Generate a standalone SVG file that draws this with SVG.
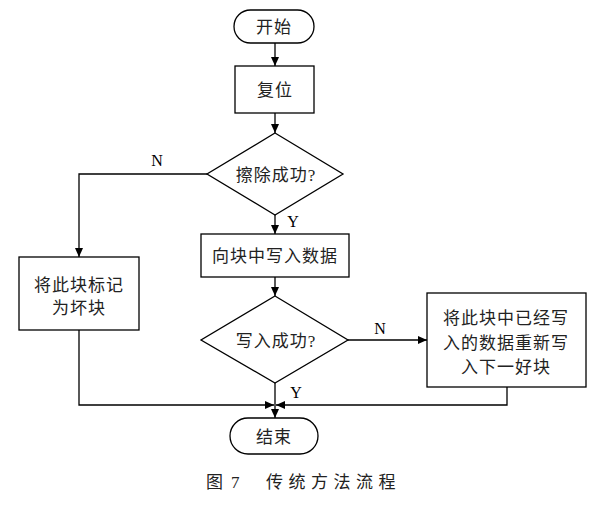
<svg xmlns="http://www.w3.org/2000/svg" width="615" height="512" viewBox="0 0 615 512">
<style>
.s{fill:#fff;stroke:#000;stroke-width:1.3}
.c{fill:none;stroke:#000;stroke-width:1.3}
.t{font-family:"Liberation Serif","Noto Sans CJK SC",serif;font-size:17px;fill:#222;text-anchor:middle;dominant-baseline:central;letter-spacing:1px}
.l{font-family:"Liberation Serif",serif;font-size:16px;fill:#000;text-anchor:middle;dominant-baseline:central}
.cap{font-family:"Liberation Serif","Noto Sans CJK SC",serif;font-size:17px;fill:#222;dominant-baseline:central}
</style>
<defs>
<marker id="a" markerWidth="9" markerHeight="8" refX="9" refY="4" orient="auto" markerUnits="userSpaceOnUse">
<path d="M0,0 L9,4 L0,8 Z" fill="#000"/>
</marker>
</defs>
<rect width="615" height="512" fill="#fff"/>
<g id="connectors">
<line class="c" x1="275" y1="43" x2="275" y2="66" marker-end="url(#a)"/>
<line class="c" x1="275" y1="113" x2="275" y2="133" marker-end="url(#a)"/>
<polyline class="c" points="207,174 79,174 79,257" marker-end="url(#a)"/>
<line class="c" x1="275" y1="215" x2="275" y2="234" marker-end="url(#a)"/>
<line class="c" x1="275" y1="277" x2="275" y2="296" marker-end="url(#a)"/>
<line class="c" x1="348" y1="340" x2="427" y2="340" marker-end="url(#a)"/>
<polyline class="c" points="79,330 79,405 274,405" marker-end="url(#a)"/>
<polyline class="c" points="507,387 507,405 276,405" marker-end="url(#a)"/>
<line class="c" x1="275" y1="383" x2="275" y2="418" marker-end="url(#a)"/>
<text class="l" x="157" y="160">N</text>
<text class="l" x="293" y="221">Y</text>
<text class="l" x="380" y="328">N</text>
<text class="l" x="296" y="392">Y</text>
</g>
<g id="start">
<rect class="s" x="234" y="10" width="80" height="33" rx="16.5"/>
<text class="t" x="274" y="27">开始</text>
</g>
<g id="reset">
<rect class="s" x="235" y="66" width="79" height="47"/>
<text class="t" x="275" y="90">复位</text>
</g>
<g id="erase">
<polygon class="s" points="275,133 343,174 275,215 207,174"/>
<text class="t" x="276" y="175">擦除成功?</text>
</g>
<g id="mark">
<rect class="s" x="19" y="257" width="120" height="73"/>
<text class="t" x="79" y="285">将此块标记</text>
<text class="t" x="79" y="308">为坏块</text>
</g>
<g id="write">
<rect class="s" x="201" y="234" width="148" height="43"/>
<text class="t" x="275" y="256">向块中写入数据</text>
</g>
<g id="writeok">
<polygon class="s" points="275,296 348,340 275,383 201,340"/>
<text class="t" x="276" y="341">写入成功?</text>
</g>
<g id="rewrite">
<rect class="s" x="427" y="293" width="159" height="94"/>
<text class="t" x="506" y="318">将此块中已经写</text>
<text class="t" x="506" y="343">入的数据重新写</text>
<text class="t" x="506" y="367">入下一好块</text>
</g>
<g id="end">
<rect class="s" x="230" y="418" width="88" height="36" rx="18"/>
<text class="t" x="274" y="437">结束</text>
</g>
<text class="cap" x="206" y="482">图</text>
<text class="cap" x="231" y="482">7</text>
<text class="cap" x="266" y="482" style="letter-spacing:5.5px">传统方法流程</text>
</svg>
